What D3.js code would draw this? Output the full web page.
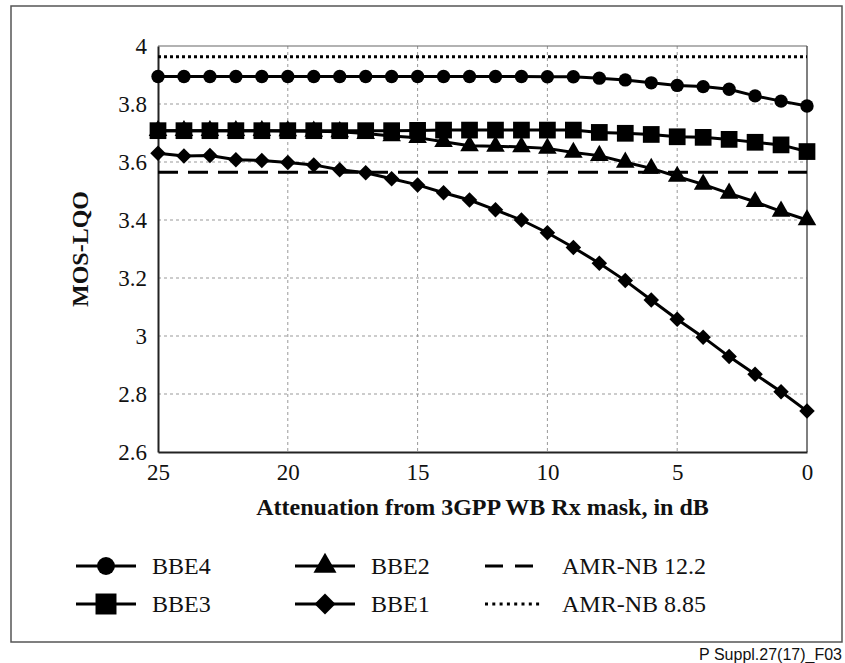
<!DOCTYPE html>
<html>
<head>
<meta charset="utf-8">
<script src="https://cdn.jsdelivr.net/npm/d3@7"></script>
<style>
  body { margin: 0; background: #fff; }
  svg text { fill: #111; }
</style>
</head>
<body>
<div class="canvas"></div>
<script>
const attenuation = [25, 24, 23, 22, 21, 20, 19, 18, 17, 16, 15, 14, 13, 12, 11, 10, 9, 8, 7, 6, 5, 4, 3, 2, 1, 0]

const bbe4 = [3.895, 3.895, 3.895, 3.895, 3.895, 3.895, 3.895, 3.895, 3.895, 3.895, 3.895, 3.895, 3.895,
  3.895, 3.895, 3.894, 3.894, 3.889, 3.883, 3.873, 3.864, 3.860, 3.851, 3.828, 3.810, 3.793]
const bbe3 = [3.708, 3.708, 3.708, 3.708, 3.708, 3.708, 3.708, 3.708, 3.708, 3.708, 3.709, 3.710, 3.710,
  3.710, 3.710, 3.710, 3.710, 3.702, 3.699, 3.695, 3.687, 3.685, 3.678, 3.668, 3.659, 3.636]
const bbe2 = [3.708, 3.708, 3.708, 3.708, 3.708, 3.707, 3.706, 3.704, 3.698, 3.690, 3.684, 3.670, 3.656,
  3.654, 3.652, 3.647, 3.633, 3.622, 3.599, 3.578, 3.550, 3.523, 3.492, 3.463, 3.430, 3.400]
const bbe1 = [3.630, 3.621, 3.622, 3.608, 3.605, 3.598, 3.590, 3.573, 3.563, 3.542, 3.521, 3.494, 3.469,
  3.435, 3.400, 3.356, 3.305, 3.251, 3.191, 3.124, 3.058, 2.996, 2.929, 2.868, 2.808, 2.741]

const amrNb122 = 3.565
const amrNb885 = 3.963

const xTicks = [25, 20, 15, 10, 5, 0]
const yTicks = [2.6, 2.8, 3, 3.2, 3.4, 3.6, 3.8, 4]

// a square turned by 45 degrees, like the reference's diamonds
const symbolDiamondSquare = {
  draw(context, size) {
    const r = Math.sqrt(size / 2)
    context.moveTo(0, -r)
    context.lineTo(r, 0)
    context.lineTo(0, r)
    context.lineTo(-r, 0)
    context.closePath()
  }
}

const series = [
  {name: 'BBE1', values: bbe1, symbol: symbolDiamondSquare, size: 120},
  {name: 'BBE2', values: bbe2, symbol: d3.symbolTriangle, size: 150},
  {name: 'BBE3', values: bbe3, symbol: d3.symbolSquare, size: 280},
  {name: 'BBE4', values: bbe4, symbol: d3.symbolCircle, size: 140}
]

const width = 845
const height = 663
const plot = {left: 158, right: 807, top: 46, bottom: 452}
const serif = '"Liberation Serif", "Times New Roman", serif'

const svg = d3.select('.canvas')
  .append('svg')
  .attr('width', width)
  .attr('height', height)

// outer frame
svg.append('rect')
  .attr('x', 11)
  .attr('y', 6)
  .attr('width', 831)
  .attr('height', 636)
  .attr('fill', 'none')
  .attr('stroke', '#555')
  .attr('stroke-width', 1.5)

const x = d3.scaleLinear()
  .domain([25, 0])
  .range([plot.left, plot.right])

const y = d3.scaleLinear()
  .domain([2.6, 4])
  .range([plot.bottom, plot.top])

// grid
const grid = svg.append('g')
  .attr('stroke', '#999')
  .attr('stroke-width', 1)
  .attr('stroke-dasharray', '3,3')

grid.selectAll('.vgrid')
  .data(xTicks.filter(d => d !== 25 && d !== 0))
  .enter().append('line')
  .attr('x1', d => x(d))
  .attr('x2', d => x(d))
  .attr('y1', plot.top)
  .attr('y2', plot.bottom)

grid.selectAll('.hgrid')
  .data(yTicks.filter(d => d !== 2.6 && d !== 4))
  .enter().append('line')
  .attr('x1', plot.left)
  .attr('x2', plot.right)
  .attr('y1', d => y(d))
  .attr('y2', d => y(d))

// plot border: top and right grey, left and bottom black
svg.append('line')
  .attr('x1', plot.left).attr('x2', plot.right)
  .attr('y1', plot.top).attr('y2', plot.top)
  .attr('stroke', '#666')
  .attr('stroke-width', 1.2)

svg.append('line')
  .attr('x1', plot.right).attr('x2', plot.right)
  .attr('y1', plot.top).attr('y2', plot.bottom)
  .attr('stroke', '#555')
  .attr('stroke-width', 1.5)

// axes
const xAxis = d3.axisBottom(x)
  .tickValues(xTicks)
  .tickSize(0)
  .tickPadding(12)
  .tickFormat(d3.format('d'))

const yAxis = d3.axisLeft(y)
  .tickValues(yTicks)
  .tickSize(0)
  .tickPadding(11)
  .tickFormat(d => d3.format('')(+d.toFixed(1)))

const xAxisGroup = svg.append('g')
  .attr('transform', `translate(0, ${plot.bottom})`)
  .call(xAxis)

const yAxisGroup = svg.append('g')
  .attr('transform', `translate(${plot.left}, 0)`)
  .call(yAxis)

for (const group of [xAxisGroup, yAxisGroup]) {
  group.select('.domain')
    .attr('stroke', '#222')
    .attr('stroke-width', 2)
  group.selectAll('text')
    .attr('font-family', serif)
    .attr('font-size', 23)
    .attr('fill', '#111')
}
xAxisGroup.selectAll('text').attr('dy', '0.71em')

svg.append('text')
  .attr('x', (plot.left + plot.right) / 2)
  .attr('y', 515)
  .attr('text-anchor', 'middle')
  .attr('font-family', serif)
  .attr('font-weight', 'bold')
  .attr('font-size', 24)
  .text('Attenuation from 3GPP WB Rx mask, in dB')

svg.append('text')
  .attr('transform', `translate(88, ${(plot.top + plot.bottom) / 2}) rotate(-90)`)
  .attr('text-anchor', 'middle')
  .attr('font-family', serif)
  .attr('font-weight', 'bold')
  .attr('font-size', 24)
  .text('MOS-LQO')

// reference lines
svg.append('line')
  .attr('x1', plot.left).attr('x2', plot.right)
  .attr('y1', y(amrNb122)).attr('y2', y(amrNb122))
  .attr('stroke', '#000')
  .attr('stroke-width', 3)
  .attr('stroke-dasharray', '20,10')

svg.append('line')
  .attr('x1', plot.left).attr('x2', plot.right)
  .attr('y1', y(amrNb885)).attr('y2', y(amrNb885))
  .attr('stroke', '#000')
  .attr('stroke-width', 3)
  .attr('stroke-dasharray', '3,3')

// series
const line = d3.line()
  .x((d, i) => x(attenuation[i]))
  .y(d => y(d))

const seriesGroup = svg.append('g')
series.forEach(s => {
  const g = seriesGroup.append('g')
  g.append('path')
    .datum(s.values)
    .attr('fill', 'none')
    .attr('stroke', '#000')
    .attr('stroke-width', 3)
    .attr('d', line)
  g.selectAll('path.mark')
    .data(s.values)
    .enter().append('path')
    .attr('class', 'mark')
    .attr('transform', (d, i) => `translate(${x(attenuation[i])}, ${y(d)})`)
    .attr('d', d3.symbol().type(s.symbol).size(s.size))
    .attr('fill', '#000')
})

// legend (its markers are drawn a bit larger than in the plot)
const legendItems = [
  {name: 'BBE4', col: 0, row: 0, symbol: d3.symbolCircle, size: 250},
  {name: 'BBE3', col: 0, row: 1, symbol: d3.symbolSquare, size: 440},
  {name: 'BBE2', col: 1, row: 0, symbol: d3.symbolTriangle, size: 230},
  {name: 'BBE1', col: 1, row: 1, symbol: symbolDiamondSquare, size: 220},
  {name: 'AMR-NB 12.2', col: 2, row: 0, dash: '18,12', x2: 533},
  {name: 'AMR-NB 8.85', col: 2, row: 1, dash: '3,4.3', x2: 542}
]
const legendCols = [{x1: 76, x2: 136, text: 152}, {x1: 295, x2: 355, text: 371}, {x1: 485, x2: 535, text: 562}]
const legendRows = [566, 604]

const legend = svg.append('g')
legendItems.forEach(item => {
  const c = legendCols[item.col]
  const ly = legendRows[item.row]
  const g = legend.append('g')
  if (item.dash) {
    g.append('line')
      .attr('x1', c.x1).attr('x2', item.x2)
      .attr('y1', ly).attr('y2', ly)
      .attr('stroke', '#000')
      .attr('stroke-width', 3)
      .attr('stroke-dasharray', item.dash)
  } else {
    g.append('line')
      .attr('x1', c.x1).attr('x2', c.x2)
      .attr('y1', ly).attr('y2', ly)
      .attr('stroke', '#000')
      .attr('stroke-width', 3)
    g.append('path')
      .attr('transform', `translate(${(c.x1 + c.x2) / 2}, ${ly})`)
      .attr('d', d3.symbol().type(item.symbol).size(item.size))
      .attr('fill', '#000')
  }
  g.append('text')
    .attr('x', c.text)
    .attr('y', ly + 8)
    .attr('font-family', serif)
    .attr('font-size', 24)
    .text(item.name)
})

svg.append('text')
  .attr('x', 842)
  .attr('y', 660)
  .attr('text-anchor', 'end')
  .attr('font-family', '"Liberation Sans", Arial, sans-serif')
  .attr('font-size', 16)
  .text('P Suppl.27(17)_F03')
</script>
</body>
</html>
